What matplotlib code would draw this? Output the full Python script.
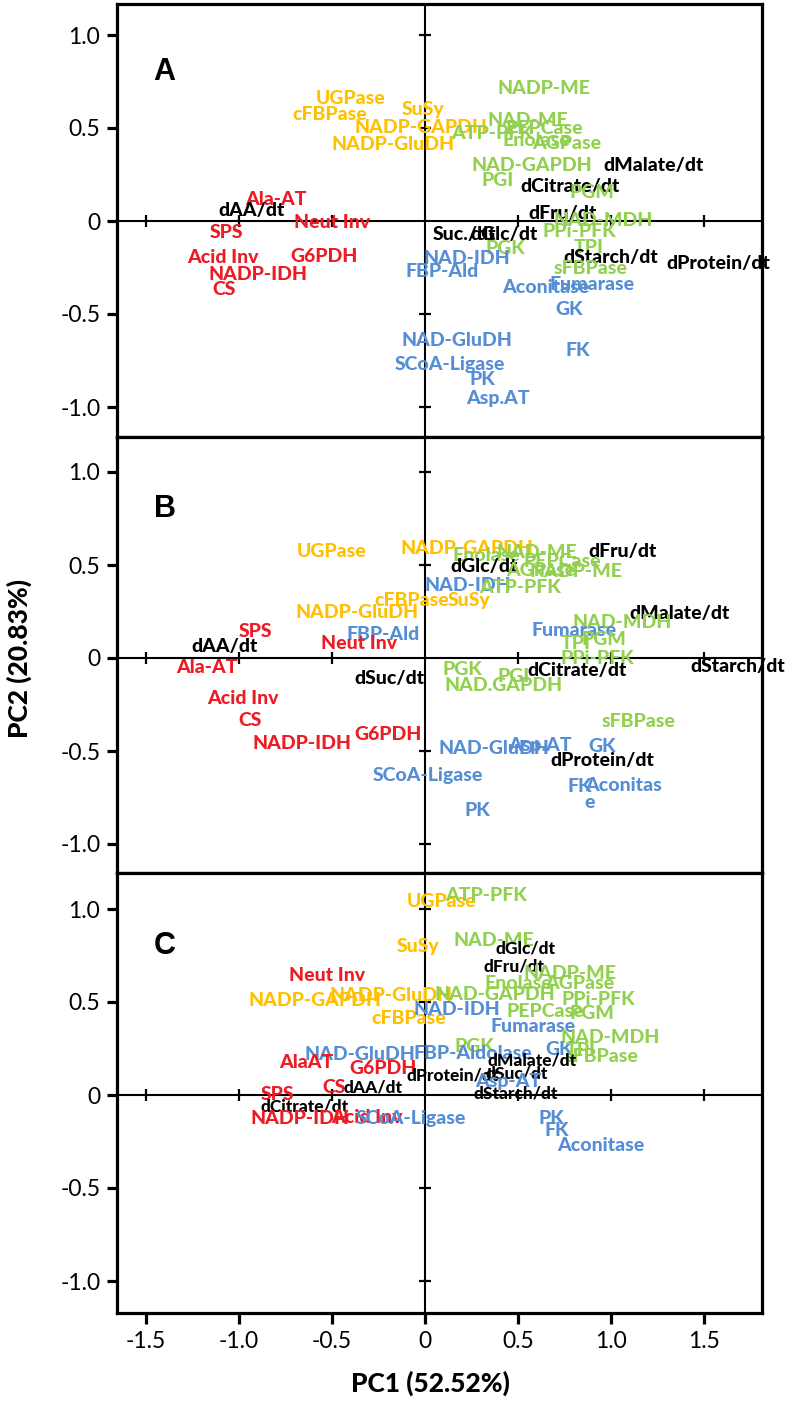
import matplotlib.pyplot as plt

# panel A
a_names = ["UGPase", "cFBPase", "SuSy", "NADP-GAPDH", "NADP-GluDH",
           "Ala-AT", "dAA/dt", "Neut Inv", "SPS", "Acid Inv", "G6PDH", "NADP-IDH", "CS",
           "NADP-ME", "NAD-ME", "PEPCase", "ATP-PFK", "Enolase", "AGPase", "NAD-GAPDH",
           "dMalate/dt", "PGI", "dCitrate/dt", "PGM", "dFru/dt", "NAD-MDH", "PPi-PFK",
           "Suc./dt", "dGlc/dt", "PGK", "TPI", "dStarch/dt", "dProtein/dt", "sFBPase",
           "NAD-IDH", "FBP-Ald", "Fumarase", "Aconitase", "GK", "NAD-GluDH",
           "SCoA-Ligase", "FK", "PK", "Asp.AT"]
a_x = [-0.40, -0.51, -0.01, -0.02, -0.17,
       -0.80, -0.93, -0.50, -1.07, -1.085, -0.54, -0.90, -1.08,
       0.64, 0.555, 0.64, 0.36, 0.60, 0.76, 0.575,
       1.23, 0.39, 0.78, 0.90, 0.74, 0.96, 0.83,
       0.215, 0.425, 0.43, 0.88, 1.00, 1.575, 0.89,
       0.226, 0.09, 0.90, 0.65, 0.776, 0.17,
       0.134, 0.82, 0.31, 0.39]
a_y = [0.656, 0.57, 0.60, 0.505, 0.41,
       0.113, 0.055, -0.01, -0.06, -0.195, -0.19, -0.29, -0.366,
       0.71, 0.54, 0.495, 0.473, 0.435, 0.414, 0.30,
       0.297, 0.22, 0.188, 0.152, 0.043, 0.005, -0.057,
       -0.075, -0.075, -0.147, -0.14, -0.195, -0.227, -0.254,
       -0.20, -0.27, -0.344, -0.36, -0.478, -0.64,
       -0.774, -0.694, -0.85, -0.953]
a_grp = ["o", "o", "o", "o", "o",
         "r", "k", "r", "r", "r", "r", "r", "r",
         "g", "g", "g", "g", "g", "g", "g",
         "k", "g", "k", "g", "k", "g", "g",
         "k", "k", "g", "g", "k", "k", "g",
         "b", "b", "b", "b", "b", "b",
         "b", "b", "b", "b"]

# panel B
b_names = ["UGPase", "NADP-GAPDH", "NADP-GluDH", "cFBPase", "SuSy",
           "NAD-IDH", "FBP-Ald", "SPS", "dAA/dt", "Neut Inv", "Ala-AT", "dSuc/dt",
           "Acid Inv", "CS", "G6PDH", "NADP-IDH",
           "Enolase", "NAD-ME", "dFru/dt", "PEPCase", "dGlc/dt", "AGPase", "NADP-ME",
           "ATP-PFK", "dMalate/dt", "NAD-MDH", "Fumarase", "PGM", "TPI", "PPi-PFK",
           "dStarch/dt", "PGK", "PGI", "dCitrate/dt", "NAD.GAPDH", "sFBPase",
           "NAD-GluDH", "Asp.AT", "GK", "dProtein/dt", "SCoA-Ligase", "Aconitas\ne",
           "FK", "PK"]
b_x = [-0.50, 0.225, -0.365, -0.07, 0.235,
       0.23, -0.225, -0.91, -1.075, -0.355, -1.17, -0.19,
       -0.98, -0.94, -0.20, -0.66,
       0.33, 0.60, 1.06, 0.74, 0.32, 0.62, 0.81,
       0.51, 1.37, 1.06, 0.80, 0.96, 0.81, 0.925,
       1.68, 0.20, 0.475, 0.82, 0.425, 1.15,
       0.37, 0.62, 0.95, 0.955, 0.016, 1.065,
       0.83, 0.28]
b_y = [0.57, 0.59, 0.244, 0.31, 0.31,
       0.39, 0.124, 0.14, 0.06, 0.08, -0.05, -0.11,
       -0.22, -0.337, -0.41, -0.46,
       0.55, 0.566, 0.57, 0.52, 0.49, 0.47, 0.465,
       0.38, 0.24, 0.19, 0.15, 0.10, 0.08, -0.005,
       -0.047, -0.06, -0.10, -0.065, -0.15, -0.34,
       -0.485, -0.47, -0.477, -0.55, -0.63, -0.73,
       -0.69, -0.82]
b_grp = ["o", "o", "o", "o", "o",
         "b", "b", "r", "k", "r", "r", "k",
         "r", "r", "r", "r",
         "g", "g", "k", "g", "k", "g", "g",
         "g", "k", "g", "b", "g", "g", "g",
         "k", "g", "g", "k", "g", "g",
         "b", "b", "b", "k", "b", "b",
         "b", "b"]

# panel C
c_names = ["UGPase", "ATP-PFK", "SuSy", "NAD-ME", "dGlc/dt", "dFru/dt", "Neut Inv",
           "NADP-ME", "Enolase", "AGPase", "NADP-GAPDH", "NADP-GluDH", "NAD-GAPDH",
           "PPi-PFK", "cFBPase", "NAD-IDH", "PEPCase", "PGM", "Fumarase", "NAD-MDH",
           "PGK", "GK", "TPI", "sFBPase", "NAD-GluDH", "FBP-Aldolase", "AlaAT", "G6PDH",
           "dMalate/dt", "dProtein/dt", "dSuc/dt", "Asp-AT", "CS", "dAA/dt",
           "dStarch/dt", "SPS", "dCitrate/dt", "NADP-IDH", "Acid Inv", "SCoA-Ligase",
           "PK", "FK", "Aconitase"]
c_x = [0.09, 0.33, -0.04, 0.37, 0.54, 0.48, -0.525,
       0.78, 0.50, 0.83, -0.59, -0.18, 0.376,
       0.93, -0.09, 0.17, 0.645, 0.90, 0.58, 0.995,
       0.265, 0.72, 0.835, 0.95, -0.35, 0.26, -0.64, -0.225,
       0.575, 0.15, 0.495, 0.45, -0.49, -0.28,
       0.49, -0.795, -0.65, -0.67, -0.31, -0.075,
       0.68, 0.71, 0.945]
c_y = [1.04, 1.075, 0.80, 0.833, 0.79, 0.69, 0.64,
       0.655, 0.60, 0.60, 0.51, 0.535, 0.54,
       0.515, 0.41, 0.457, 0.448, 0.44, 0.367, 0.31,
       0.263, 0.242, 0.24, 0.205, 0.22, 0.225, 0.177, 0.14,
       0.185, 0.107, 0.118, 0.07, 0.043, 0.043,
       0.01, 0.0, -0.06, -0.125, -0.12, -0.125,
       -0.125, -0.19, -0.27]
c_grp = ["o", "g", "o", "g", "k", "k", "r",
         "g", "g", "g", "o", "o", "g",
         "g", "o", "b", "g", "g", "b", "g",
         "g", "b", "g", "g", "b", "b", "r", "r",
         "k", "k", "k", "b", "r", "k",
         "k", "r", "k", "r", "r", "b",
         "b", "b", "b"]

xticks = [-1.5, -1.0, -0.5, 0, 0.5, 1.0, 1.5]
xticklabels = ["-1.5", "-1.0", "-0.5", "0", "0.5", "1.0", "1.5"]
yticks = [-1.0, -0.5, 0, 0.5, 1.0]
yticklabels = ["-1.0", "-0.5", "0", "0.5", "1.0"]

colors = {"r": "#EC1C24", "o": "#FFC000", "g": "#92D050", "b": "#558ED5", "k": "black"}

W, H = 789, 1402
fig = plt.figure(figsize=(W / 100, H / 100), dpi=100)

# pixel geometry: top, bottom, zero line of each panel
panels = [("A", a_names, a_x, a_y, a_grp, 4, 437, 221),
          ("B", b_names, b_x, b_y, b_grp, 437, 873, 658),
          ("C", c_names, c_x, c_y, c_grp, 873, 1313, 1095)]
left, right = 117, 762
ppu = 186.0

for letter, names, xs, ys, grp, top, bot, zero in panels:
    ax = fig.add_axes([left / W, 1 - bot / H, (right - left) / W, (bot - top) / H])
    ax.set_xlim(-1.656, 1.812)
    ax.set_ylim(-(bot - zero) / ppu, (zero - top) / ppu)
    for s in ax.spines.values():
        s.set_linewidth(2.3)
    ax.axhline(0, color="black", lw=1.5, zorder=1)
    ax.axvline(0, color="black", lw=1.5, zorder=1)
    ax.plot([t for t in xticks if t != 0], [0] * 6, ls="none", marker="|",
            ms=9, mew=1.6, color="black", zorder=1)
    ax.plot([0] * 4, [t for t in yticks if t != 0], ls="none", marker="_",
            ms=9, mew=1.6, color="black", zorder=1)

    ax.set_yticks(yticks)
    ax.set_yticklabels(yticklabels, fontfamily="Lato", fontsize=16.5)
    ax.tick_params(axis="y", direction="out", length=7, width=2.3, pad=5)
    ax.set_xticks(xticks)
    if letter == "C":
        ax.set_xticklabels(xticklabels, fontfamily="Lato", fontsize=16.5)
        ax.tick_params(axis="x", direction="out", length=8, width=2.3, pad=5)
    else:
        ax.tick_params(axis="x", length=0, labelbottom=False)

    ax.text(-1.40, 0.80, letter, fontsize=22, fontweight="bold",
            fontfamily="Liberation Sans", ha="center", va="center")

    for name, x, y, g in zip(names, xs, ys, grp):
        size = 14
        if letter == "C" and g == "k":
            size = 12.5
        ax.text(x, y, name, color=colors[g], fontsize=size, fontweight="black",
                fontfamily="Lato", ha="center", va="center", multialignment="left",
                linespacing=1.0, zorder=3)

fig.text(19 / W, 1 - 659 / H, "PC2 (20.83%)", rotation=90, fontsize=19,
         fontweight="black", fontfamily="Lato", ha="center", va="center")
fig.text(430 / W, 1 - 1383 / H, "PC1 (52.52%)", fontsize=19,
         fontweight="black", fontfamily="Lato", ha="center", va="center")

fig.savefig("out.png", dpi=100)
